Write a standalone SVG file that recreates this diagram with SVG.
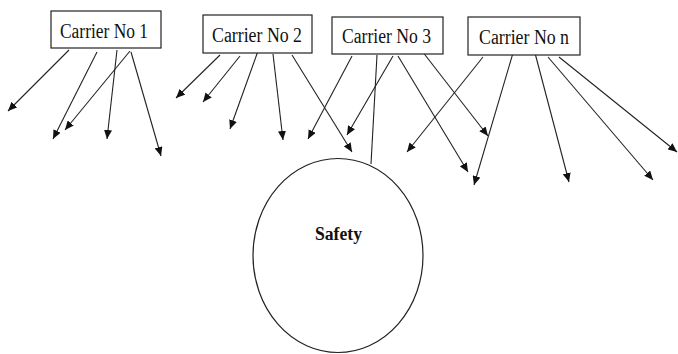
<svg xmlns="http://www.w3.org/2000/svg" width="678" height="354" viewBox="0 0 678 354">
<style>
.box{fill:#fff;stroke:#222;stroke-width:1.2}
.lbl{font-family:"Liberation Serif","Times New Roman",serif;font-size:20px;fill:#111}
.bold{font-weight:bold;font-size:18px}
.c{stroke:#222;stroke-width:1.1;fill:none}
.a{marker-end:url(#ah)}
</style>
<defs>
<marker id="ah" markerWidth="10" markerHeight="8" refX="9" refY="4" orient="auto" markerUnits="userSpaceOnUse">
<path d="M0,0 L9,4 L0,8 Z" fill="#111"/>
</marker>
</defs>
<g id="connectors">
<line class="c a" x1="69" y1="50" x2="8" y2="111"/>
<line class="c a" x1="97" y1="52" x2="53" y2="139"/>
<line class="c a" x1="117" y1="50" x2="107" y2="139"/>
<line class="c a" x1="130" y1="51" x2="65" y2="130"/>
<line class="c a" x1="131" y1="52" x2="161" y2="156"/>
<line class="c a" x1="220" y1="55" x2="176" y2="98"/>
<line class="c a" x1="240" y1="56" x2="203" y2="102"/>
<line class="c a" x1="258" y1="51" x2="230" y2="129"/>
<line class="c a" x1="273" y1="54" x2="283" y2="140"/>
<line class="c a" x1="292" y1="55" x2="352" y2="152"/>
<line class="c a" x1="352" y1="56" x2="308" y2="139"/>
<line class="c" x1="377" y1="55" x2="371" y2="164"/>
<line class="c a" x1="393" y1="56" x2="347" y2="135"/>
<line class="c a" x1="398" y1="56" x2="468" y2="172"/>
<line class="c a" x1="422" y1="51" x2="488" y2="136"/>
<line class="c a" x1="483" y1="57" x2="407" y2="152"/>
<line class="c a" x1="513" y1="53" x2="474" y2="185"/>
<line class="c a" x1="535" y1="53" x2="569" y2="182"/>
<line class="c a" x1="548" y1="57" x2="653" y2="180"/>
<line class="c a" x1="559" y1="57" x2="677" y2="152"/>
</g>
<g id="carrier1">
<rect class="box" x="51" y="11" width="110" height="37"/>
<text class="lbl" x="60" y="38" textLength="88" lengthAdjust="spacingAndGlyphs">Carrier No 1</text>
</g>
<g id="carrier2">
<rect class="box" x="203" y="15" width="109" height="38"/>
<text class="lbl" x="212" y="41.5" textLength="90" lengthAdjust="spacingAndGlyphs">Carrier No 2</text>
</g>
<g id="carrier3">
<rect class="box" x="332" y="17" width="111" height="37"/>
<text class="lbl" x="342" y="43" textLength="89" lengthAdjust="spacingAndGlyphs">Carrier No 3</text>
</g>
<g id="carriern">
<rect class="box" x="468" y="17" width="112" height="38"/>
<text class="lbl" x="479" y="44" textLength="90" lengthAdjust="spacingAndGlyphs">Carrier No n</text>
</g>
<g id="safety">
<ellipse cx="338" cy="255.5" rx="85" ry="97" fill="none" stroke="#222" stroke-width="1.2"/>
<text class="lbl bold" x="315" y="240" textLength="47" lengthAdjust="spacingAndGlyphs">Safety</text>
</g>
</svg>
